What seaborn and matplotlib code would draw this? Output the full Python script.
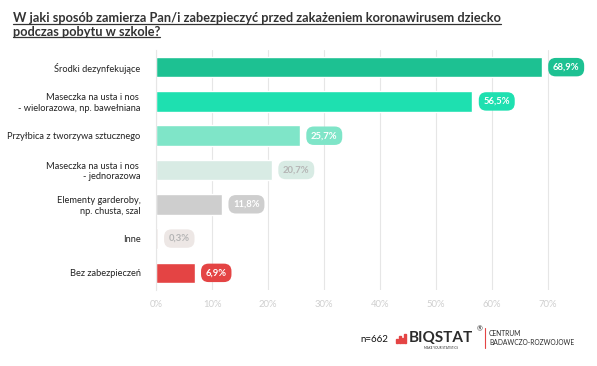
import matplotlib
matplotlib.use('Agg')
import matplotlib.pyplot as plt
import seaborn as sns
from matplotlib.lines import Line2D
from matplotlib.patches import Rectangle

kategorie = ['Środki dezynfekujące',
             'Maseczka na usta i nos \n- wielorazowa, np. bawełniana',
             'Przyłbica z tworzywa sztucznego',
             'Maseczka na usta i nos \n- jednorazowa',
             'Elementy garderoby,\nnp. chusta, szal',
             'Inne',
             'Bez zabezpieczeń']
wartosci = [68.9, 56.5, 25.7, 20.7, 11.8, 0.3, 6.9]
kolory = ['#1dc192', '#1ee0b0', '#7fe5c8', '#d8ebe4', '#cecece', '#ede7e5', '#e44444']
kolory_tekstu = ['white', 'white', 'white', '#b5b5b5', 'white', '#b5b5b5', 'white']
etykiety_x = ['0%', '10%', '20%', '30%', '40%', '50%', '60%', '70%']
tytul = ('W jaki sposób zamierza Pan/i zabezpieczyć przed zakażeniem koronawirusem dziecko\n'
         'podczas pobytu w szkole?')
n_proby = 'n=662'

sns.set_theme(style='white')
plt.rcParams['font.family'] = ['Lato', 'DejaVu Sans']

fig = plt.figure(figsize=(5.97, 3.66), dpi=100)
ax = fig.add_axes([156 / 597, 1 - 290 / 366, 420 / 597, 240 / 366])

sns.barplot(x=wartosci, y=kategorie, hue=kategorie, palette=kolory,
            legend=False, width=0.6, ax=ax, saturation=1)

ax.set_xlim(0, 75)
ax.set_ylim(len(kategorie) - 0.5, -0.5)
ax.set_xticks(range(0, 80, 10))
ax.set_xticklabels(etykiety_x, color='#cfcfcf', fontsize=6.8)
ax.tick_params(axis='x', length=3, color='#e6e6e6', pad=4)
ax.tick_params(axis='y', which='major', length=0, labelsize=6.7, pad=11,
               labelcolor='#222222')
ax.set_yticks([i + 0.5 for i in range(len(kategorie) - 1)], minor=True)
ax.tick_params(axis='y', which='minor', length=9, color='#e6e6e6', width=0.8)
for lab in ax.get_yticklabels():
    lab.set_multialignment('right')

ax.grid(axis='x', color='#e6e6e6', linewidth=0.8)
ax.set_axisbelow(True)
for s in ['top', 'right', 'bottom']:
    ax.spines[s].set_visible(False)
ax.spines['left'].set_color('#e6e6e6')
ax.spines['left'].set_linewidth(0.8)
ax.set_xlabel('')
ax.set_ylabel('')

for i, (v, kol, kt) in enumerate(zip(wartosci, kolory, kolory_tekstu)):
    tekst = f'{v:.1f}%'.replace('.', ',')
    ax.annotate(tekst, (v, i), xytext=(8, 0), textcoords='offset points',
                ha='left', va='center', fontsize=6.8, fontweight='bold',
                color=kt, annotation_clip=False,
                bbox=dict(boxstyle='round,pad=0.5,rounding_size=0.8',
                          fc=kol, ec='none'))

# tytul z podkresleniem
rozm_tyt = 9.2
t = fig.text(13 / 597, 1 - 12 / 366, tytul, ha='left', va='top',
             fontsize=rozm_tyt, fontweight='bold', color='#333333', linespacing=1.25)
fig.canvas.draw()
renderer = fig.canvas.get_renderer()
linie = tytul.split('\n')
bb = t.get_window_extent(renderer)
h_lin = bb.height / len(linie)
for k, l in enumerate(linie):
    tmp = fig.text(0, 0, l, fontsize=rozm_tyt, fontweight='bold')
    w = tmp.get_window_extent(renderer).width
    tmp.remove()
    y = bb.y1 - (k + 1) * h_lin + 1.5
    fig.add_artist(Line2D([bb.x0 / fig.bbox.width, (bb.x0 + w) / fig.bbox.width],
                          [y / fig.bbox.height] * 2, color='#333333',
                          linewidth=0.9, transform=fig.transFigure))

# stopka
fig.text(360 / 597, 1 - 339 / 366, n_proby, fontsize=7, color='#111111',
         ha='left', va='center')
for k, hh in enumerate([4, 7, 5, 9]):
    fig.add_artist(Rectangle(((396 + k * 2.8) / 597, 1 - 343 / 366), 1.7 / 597,
                             hh / 366, color='#e44444', transform=fig.transFigure))
fig.text(409 / 597, 1 - 338 / 366, 'BIQSTAT', fontsize=11, fontweight='bold',
         color='#2b2b2b', ha='left', va='center')
fig.text(441 / 597, 1 - 348 / 366, 'MAKE YOUR STATISTICS', fontsize=2.2,
         color='#2b2b2b', ha='center', va='center')
fig.text(477 / 597, 1 - 329 / 366, '®', fontsize=5, color='#2b2b2b',
         ha='left', va='center')
fig.add_artist(Line2D([485 / 597] * 2, [1 - 328 / 366, 1 - 348 / 366],
                      color='#e44444', linewidth=0.8, transform=fig.transFigure))
fig.text(489 / 597, 1 - 338 / 366, 'CENTRUM\nBADAWCZO-ROZWOJOWE', fontsize=4.8,
         color='#2b2b2b', ha='left', va='center', linespacing=1.2)

fig.savefig('out.png', dpi=100)
